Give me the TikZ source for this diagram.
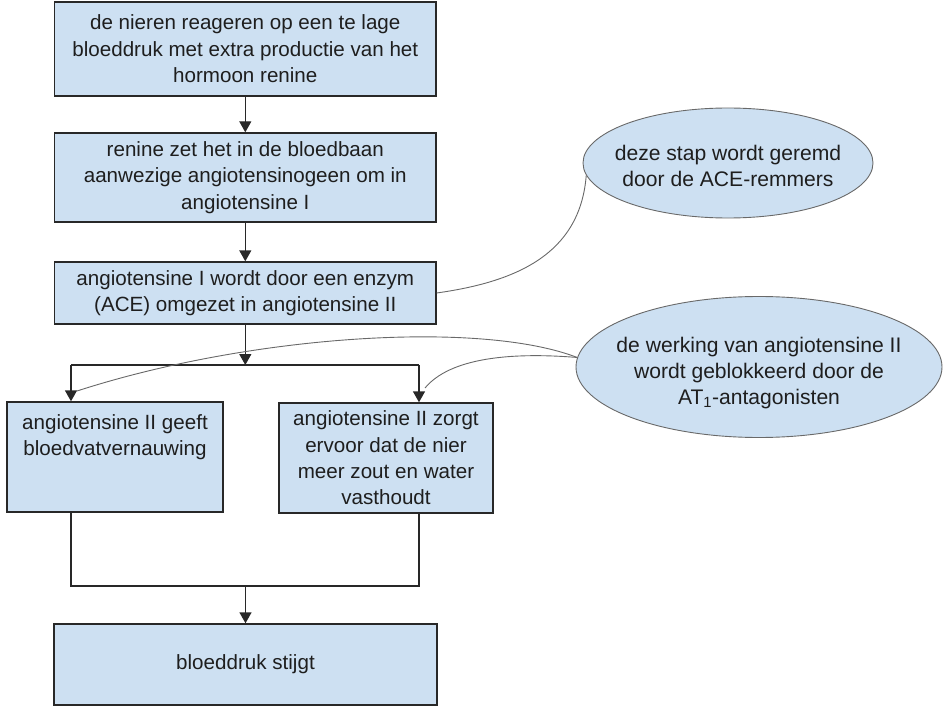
\documentclass[tikz,border=0pt]{standalone}
\usepackage{fontspec}
\setmainfont{Liberation Sans}
\usetikzlibrary{arrows.meta,shapes.geometric}
\definecolor{boxfill}{RGB}{205,224,242}
\definecolor{linedark}{RGB}{40,40,40}
\definecolor{curvegray}{RGB}{105,105,105}
\definecolor{txt}{RGB}{30,30,30}
\begin{document}
\begin{tikzpicture}[x=1pt,y=-1pt,
  box/.style={draw=linedark, line width=1.4pt, fill=boxfill, inner sep=0pt, text=txt, align=center,
    font=\fontsize{20.6}{26.4}\selectfont},
  bubble/.style={ellipse, draw=curvegray, line width=0.9pt, fill=boxfill, inner sep=0pt},
  lbl/.style={text=txt, align=center, inner sep=0pt, font=\fontsize{20.6}{26.4}\selectfont},
  blbl/.style={text=txt, align=center, inner sep=0pt, font=\fontsize{21.1}{25.8}\selectfont},
  conn/.style={draw=linedark, line width=1.4pt, -{Triangle[width=12pt,length=11pt]}},
  plainline/.style={draw=linedark, line width=1.4pt, line join=miter},
  note/.style={draw=curvegray, line width=0.9pt}]
\useasboundingbox (0,0) rectangle (943,706);

% main boxes
\node[box, minimum width=381.3pt, minimum height=94pt] (b1) at (245.3,49)
  {de nieren reageren op een te lage\\bloeddruk met extra productie van het\\hormoon renine};
\node[box, minimum width=381.3pt, minimum height=89pt] (b2) at (245.3,177.5)
  {renine zet het in de bloedbaan\\aanwezige angiotensinogeen om in\\angiotensine I};
\node[box, minimum width=381.3pt, minimum height=62pt] (b3) at (245.3,293)
  {angiotensine I wordt door een enzym\\(ACE) omgezet in angiotensine II};
\node[box, minimum width=216pt, minimum height=110pt] (lb) at (115,457) {};
\node[lbl, anchor=north] (lbt) at (115,414) {angiotensine II geeft\\bloedvatvernauwing};
\node[box, minimum width=214pt, minimum height=110pt] (rb) at (386,458)
  {angiotensine II zorgt\\ervoor dat de nier\\meer zout en water\\vasthoudt};
\node[box, minimum width=383pt, minimum height=81pt] (bb) at (245.5,664.5) {bloeddruk stijgt};

% bubbles
\node[bubble, minimum width=290pt, minimum height=110pt] (e1) at (728,163) {};
\node[blbl] (e1t) at (728,166) {deze stap wordt geremd\\door de ACE-remmers};
\node[bubble, minimum width=366pt, minimum height=141pt] (e2) at (759,367) {};
\node[blbl] (e2t) at (759,373) {de werking van angiotensine II\\wordt geblokkeerd door de\\AT\textsubscript{1}-antagonisten};

% routing coordinates
\coordinate (split) at (245.3,365);
\coordinate (sl) at (71,365);
\coordinate (sr) at (419,365);
\coordinate (jl) at (71,586);
\coordinate (jr) at (419,586);
\coordinate (jm) at (245.5,586);
\coordinate (lhit) at (77,391);
\coordinate (rhit) at (425,388);

% connectors
\draw[conn] (b1.south) -- (b2.north);
\draw[conn] (b2.south) -- (b3.north);
\draw[conn] (b3.south) -- (split);
\draw[plainline] (sl) -- (sr);
\draw[conn] (sl) -- (sl |- lb.north);
\draw[conn] (sr) -- (sr |- rb.north);
\draw[plainline] (jl |- lb.south) -- (jl) -- (jr) -- (jr |- rb.south);
\draw[conn] (jm) -- (bb.north);

% notes
\draw[note] (e1.185) .. controls (580,255) and (515,282) .. (b3.east);
\draw[note] (e2.177) .. controls (480,320) and (250,335) .. (lhit);
\draw[note] (e2.177) .. controls (510,352) and (450,358) .. (rhit);
\end{tikzpicture}
\end{document}
